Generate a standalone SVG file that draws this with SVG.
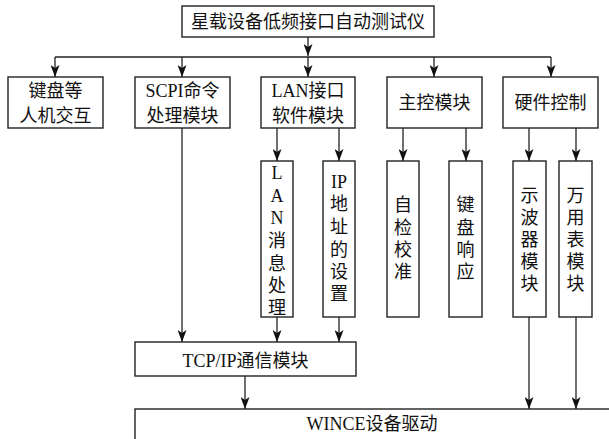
<svg xmlns="http://www.w3.org/2000/svg" width="609" height="439" viewBox="0 0 609 439">
<style>
rect{fill:#fff;stroke:#222;stroke-width:1.4}
.c path{fill:none;stroke:#222;stroke-width:1.3}
text{font-family:"Liberation Serif","Noto Sans CJK SC",serif;font-size:18px;fill:#111;text-anchor:middle}
</style>
<defs>
<marker id="a" viewBox="0 0 12 9" refX="12" refY="4.5" markerWidth="12" markerHeight="9" orient="auto" markerUnits="userSpaceOnUse">
<path d="M0,0 L12,4.5 L0,9 L3,4.5 z" fill="#111"/>
</marker>
</defs>
<g class="c" id="connectors">
<path d="M308,37 V56" marker-end="url(#a)"/>
<path d="M55,57 H551"/>
<path d="M55,57 V77" marker-end="url(#a)"/>
<path d="M182,57 V77" marker-end="url(#a)"/>
<path d="M308,57 V77" marker-end="url(#a)"/>
<path d="M434,57 V77" marker-end="url(#a)"/>
<path d="M551,57 V77" marker-end="url(#a)"/>
<path d="M277,128 V161" marker-end="url(#a)"/>
<path d="M339,128 V161" marker-end="url(#a)"/>
<path d="M403,128 V161" marker-end="url(#a)"/>
<path d="M466,128 V161" marker-end="url(#a)"/>
<path d="M529,128 V161" marker-end="url(#a)"/>
<path d="M576,128 V161" marker-end="url(#a)"/>
<path d="M182,128 V342" marker-end="url(#a)"/>
<path d="M277,317 V342" marker-end="url(#a)"/>
<path d="M339,317 V342" marker-end="url(#a)"/>
<path d="M245,376 V409" marker-end="url(#a)"/>
<path d="M529,317 V409" marker-end="url(#a)"/>
<path d="M576,317 V409" marker-end="url(#a)"/>
</g>
<g id="top"><rect x="182" y="6" width="252" height="31"/><text x="308" y="28">星载设备低频接口自动测试仪</text></g>
<g id="hmi"><rect x="8" y="77" width="95" height="51"/><text x="55.5" y="97">键盘等</text><text x="55.5" y="122">人机交互</text></g>
<g id="scpi"><rect x="135" y="77" width="95" height="51"/><text x="182.5" y="97">SCPI命令</text><text x="182.5" y="122">处理模块</text></g>
<g id="lan"><rect x="261" y="77" width="94" height="51"/><text x="308" y="97">LAN接口</text><text x="308" y="122">软件模块</text></g>
<g id="main"><rect x="387" y="77" width="95" height="51"/><text x="434.5" y="109">主控模块</text></g>
<g id="hw"><rect x="503" y="77" width="95" height="51"/><text x="550.5" y="109">硬件控制</text></g>
<g id="lanmsg"><rect x="261" y="161" width="32" height="156"/><text x="277"><tspan x="277" y="179">L</tspan><tspan x="277" y="202">A</tspan><tspan x="277" y="224">N</tspan><tspan x="277" y="247">消</tspan><tspan x="277" y="270">息</tspan><tspan x="277" y="292">处</tspan><tspan x="277" y="314">理</tspan></text></g>
<g id="ip"><rect x="323" y="161" width="32" height="156"/><text x="339"><tspan x="339" y="188">IP</tspan><tspan x="339" y="210">地</tspan><tspan x="339" y="233">址</tspan><tspan x="339" y="256">的</tspan><tspan x="339" y="278">设</tspan><tspan x="339" y="300">置</tspan></text></g>
<g id="selfcal"><rect x="387" y="161" width="32" height="156"/><text x="403"><tspan x="403" y="211">自</tspan><tspan x="403" y="234">检</tspan><tspan x="403" y="256">校</tspan><tspan x="403" y="278">准</tspan></text></g>
<g id="keyresp"><rect x="449" y="161" width="33" height="156"/><text x="465.5"><tspan x="465.5" y="211">键</tspan><tspan x="465.5" y="234">盘</tspan><tspan x="465.5" y="256">响</tspan><tspan x="465.5" y="278">应</tspan></text></g>
<g id="scope"><rect x="513" y="161" width="33" height="156"/><text x="529.5"><tspan x="529.5" y="202">示</tspan><tspan x="529.5" y="224">波</tspan><tspan x="529.5" y="246">器</tspan><tspan x="529.5" y="268">模</tspan><tspan x="529.5" y="290">块</tspan></text></g>
<g id="dmm"><rect x="559" y="161" width="33" height="156"/><text x="575.5"><tspan x="575.5" y="202">万</tspan><tspan x="575.5" y="224">用</tspan><tspan x="575.5" y="246">表</tspan><tspan x="575.5" y="268">模</tspan><tspan x="575.5" y="290">块</tspan></text></g>
<g id="tcpip"><rect x="135" y="342" width="221" height="34"/><text x="245.5" y="367">TCP/IP通信模块</text></g>
<g id="wince"><rect x="135" y="409" width="480" height="40"/><text x="372" y="430">WINCE设备驱动</text></g>
</svg>
